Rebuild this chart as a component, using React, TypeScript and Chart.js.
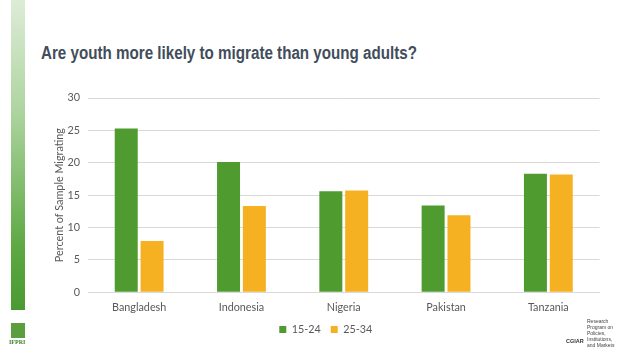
import React, { useEffect, useRef } from "react";
import { Chart, registerables } from "chart.js";

Chart.register(...registerables);

const countries = ["Bangladesh", "Indonesia", "Nigeria", "Pakistan", "Tanzania"];
const youth1524 = [25.3, 20.1, 15.6, 13.4, 18.3];
const adults2534 = [7.9, 13.3, 15.7, 11.9, 18.2];
const seriesNames = ["15-24", "25-34"];
const yTicks = [0, 5, 10, 15, 20, 25, 30];

const GREEN = "#4F9B30";
const ORANGE = "#F5B122";
const TEXT = "#595959";
const FONT = "Lato, 'Open Sans', sans-serif";

const legendShrink = {
  id: "legendShrink",
  afterInit(chart: any) {
    const legend = chart.legend;
    if (!legend) return;
    const orig = legend.fit;
    legend.fit = function (this: any) {
      orig.call(this);
      this.height -= 10;
    };
  },
};

export default function App() {
  const canvasRef = useRef<HTMLCanvasElement | null>(null);
  const titleRef = useRef<HTMLSpanElement | null>(null);

  useEffect(() => {
    if (titleRef.current) {
      titleRef.current.style.transform = "none";
      const w = titleRef.current.getBoundingClientRect().width;
      titleRef.current.style.transform = `scaleX(${376 / w})`;
    }
    const ctx = canvasRef.current!.getContext("2d")!;
    const chart = new Chart(ctx, {
      type: "bar",
      data: {
        labels: countries,
        datasets: [
          { label: seriesNames[0], data: youth1524, backgroundColor: GREEN },
          { label: seriesNames[1], data: adults2534, backgroundColor: ORANGE },
        ],
      },
      plugins: [legendShrink],
      options: {
        animation: false,
        responsive: false,
        maintainAspectRatio: false,
        layout: { padding: { left: 52, right: 38.5, top: 98, bottom: 24 } },
        datasets: { bar: { categoryPercentage: 0.505, barPercentage: 0.89 } } as any,
        plugins: {
          tooltip: { enabled: false },
          legend: {
            position: "bottom",
            labels: {
              boxWidth: 7,
              boxHeight: 7,
              padding: 10,
              color: TEXT,
              font: { family: FONT, size: 10.8 },
            },
          },
        },
        scales: {
          x: {
            grid: { display: false, drawTicks: false },
            border: { color: "#D9D9D9" },
            ticks: { color: TEXT, font: { family: FONT, size: 10.8 }, padding: 9 },
            afterFit: (scale: any) => {
              scale.height = 22;
            },
          },
          y: {
            min: 0,
            max: 30,
            afterBuildTicks: (scale: any) => {
              scale.ticks = yTicks.map((v) => ({ value: v }));
            },
            afterFit: (scale: any) => {
              scale.width = 36;
            },
            grid: { color: "#D9D9D9", drawTicks: false },
            border: { display: false },
            ticks: { color: TEXT, font: { family: FONT, size: 10.8 }, padding: 8 },
            title: {
              display: true,
              text: "Percent of Sample Migrating",
              color: TEXT,
              font: { family: FONT, size: 10.8 },
              padding: { top: 1, bottom: 0 },
            },
          },
        },
      },
    });
    return () => chart.destroy();
  }, []);

  return (
    <div style={{ position: "fixed", left: 0, top: 0, width: 638, height: 359, background: "#fff", overflow: "hidden" }}>
      <div
        style={{
          position: "absolute",
          left: 10.5,
          top: 0,
          width: 14.5,
          height: 310,
          background: "linear-gradient(to bottom, #DDECD7 0%, #AFD5A1 35%, #5DA843 80%, #4A9A33 100%)",
        }}
      />
      <div style={{ position: "absolute", left: 40.5, top: 43, whiteSpace: "nowrap" }}>
        <span
          ref={titleRef}
          style={{
            display: "inline-block",
            transformOrigin: "left center",
            fontFamily: "'Liberation Sans', Arial, sans-serif",
            fontWeight: 700,
            fontSize: 17.5,
            color: "#424D5C",
          }}
        >
          Are youth more likely to migrate than young adults?
        </span>
      </div>
      <canvas ref={canvasRef} width={638} height={359} style={{ position: "absolute", left: 0, top: 0 }} />
      <div style={{ position: "absolute", left: 11, top: 323, width: 14, height: 15, background: "#5A9E3E" }} />
      <div
        style={{
          position: "absolute",
          left: 9,
          top: 339,
          fontFamily: "'Liberation Serif', serif",
          fontSize: 6,
          color: "#3E7D2A",
          fontWeight: 700,
        }}
      >
        IFPRI
      </div>
      <div
        style={{
          position: "absolute",
          left: 566,
          top: 338,
          fontFamily: "'Liberation Sans', sans-serif",
          fontSize: 5.5,
          color: "#333",
          fontWeight: 700,
        }}
      >
        CGIAR
      </div>
      <div
        style={{
          position: "absolute",
          left: 587,
          top: 318,
          fontFamily: "'Liberation Sans', sans-serif",
          fontSize: 5,
          lineHeight: "6px",
          color: "#444",
        }}
      >
        Research
        <br />
        Program on
        <br />
        Policies,
        <br />
        Institutions,
        <br />
        and Markets
      </div>
    </div>
  );
}
